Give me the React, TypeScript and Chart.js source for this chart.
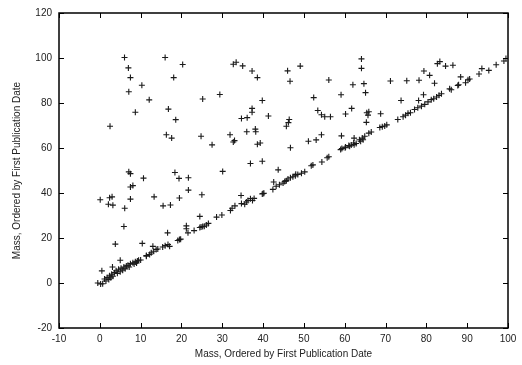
import React, { useEffect, useRef } from "react";
import { Chart, registerables } from "chart.js";

Chart.register(...registerables);

// Points lying close to the diagonal
const diagonalX = [
  -0.5, 0.2, 0.7, 1.15, 1.5, 1.8, 2.2, 2.4, 2.7, 2.9, 3.2, 3.6, 4.0, 4.3, 4.6, 5.0, 5.2, 5.6, 5.9, 6.2, 6.5, 6.9, 7.2, 7.5, 8.1, 8.4, 8.7, 9.0, 9.2, 9.5, 10.0,
  11.4, 12.2, 12.6, 13.2, 13.8, 14.2, 15.4, 16.0, 16.7, 17.1, 19.1, 19.5, 19.8,
  23.1, 24.5, 24.8, 25.2, 25.6, 26.1, 26.6, 28.6, 29.9, 32.0, 32.4, 33.1, 34.7, 35.5, 35.9, 36.3, 36.9, 37.4, 37.8, 39.8, 40.0, 40.2,
  42.4, 43.2, 44.0, 44.9, 45.3, 45.7, 46.1, 46.7, 47.3, 47.9, 48.0, 48.5, 49.4, 50.2, 51.8, 52.2, 54.4, 55.7, 56.1,
  59.0, 59.3, 60.1, 60.2, 61.0, 61.2, 61.6, 62.2, 62.3, 62.8, 63.6, 63.9, 64.3, 64.5, 64.9, 65.9, 66.5, 68.6, 69.2, 69.8, 70.3,
  73.0, 74.3, 74.9, 75.5, 76.1, 77.1, 77.9, 78.8, 79.6, 80.4, 81.2, 81.8, 82.5, 83.1, 83.7, 85.7, 86.1, 87.7, 87.9, 89.6, 90.2, 90.6,
  92.9, 93.6, 95.3, 97.1, 99.0, 99.5,
];
const diagonalY = [
  0, -0.4, -0.3, 1.75, 0.9, 2.5, 1.6, 3.2, 2.3, 3.9, 3.0, 4.6, 5.4, 4.3, 6.1, 5.0, 6.6, 5.7, 7.1, 6.3, 7.6, 7.9, 7.1, 8.6, 9.0, 8.4, 9.4, 8.9, 9.8, 10.1, 10.2,
  11.9, 12.7, 13.4, 14.1, 14.9, 15.1, 16.0, 16.6, 17.1, 16.3, 18.9, 19.3, 19.5,
  23.3, 24.7, 24.9, 25.1, 25.2, 25.8, 26.5, 29.3, 30.2, 32.2, 33.2, 34.3, 35.3, 35.0, 36.0, 36.7, 37.5, 36.7, 37.6, 39.6, 39.8, 39.9,
  41.6, 43.0, 43.7, 44.4, 45.1, 45.5, 46.2, 46.8, 47.2, 47.7, 48.3, 48.2, 48.8, 49.4, 52.1, 52.5, 53.8, 55.7, 56.1,
  59.3, 59.8, 60.1, 60.4, 61.1, 60.8, 61.3, 62.2, 61.5, 62.0, 63.7, 63.0, 64.4, 63.7, 65.2, 66.6, 67.1, 69.1, 69.5, 69.8, 70.3,
  72.7, 73.9, 74.6, 75.4, 75.7, 77.1, 77.9, 78.6, 79.4, 80.5, 81.5, 81.9, 82.7, 83.4, 84.1, 86.3, 85.9, 87.8, 88.1, 89.0, 90.3, 90.7,
  92.9, 95.3, 94.5, 97.0, 98.7, 99.8,
];

// Points lying above the diagonal
const scatterX = [
  6.05, 7.0, 7.5, 7.1, 10.3, 12.1, 8.7, 2.5, 16.0, 18.1, 20.3, 16.8, 18.6, 16.3, 17.6, 25.2, 29.4, 24.8, 27.5,
  32.7, 33.4, 35.0, 37.3, 38.6, 37.3, 37.3, 34.7, 36.1, 31.9, 32.7, 33.0, 36.0, 38.1, 38.2, 38.6, 39.3, 36.9, 30.1,
  7.1, 7.5, 10.7, 18.4, 19.4, 21.7,
  39.8, 41.3, 46.0, 46.6, 49.1, 39.8, 52.4, 53.4, 54.3, 55.1, 56.5, 45.7, 46.2, 46.4, 46.7, 51.1, 53.0, 54.3, 43.7,
  56.1, 59.1, 60.2, 61.7, 59.2, 62.0, 64.1, 64.1, 64.7, 65.1, 65.4, 65.9, 65.7, 65.3, 68.8, 71.2, 73.8, 75.2, 78.2,
  79.4, 80.8, 79.3, 78.1, 82.0, 82.7, 83.3, 84.7, 86.5, 88.4, 62.3, 42.6, 34.6,
  0.1, 2.4, 3.0, 2.1, 3.2, 6.1, 7.5, 7.5, 8.1, 5.9, 3.8, 13.3, 15.5, 17.3, 19.5, 21.7, 25.0,
  5.0, 3.1, 0.5, 10.4, 13.0, 11.4, 16.6, 21.2, 21.2, 21.6, 24.5,
];
const scatterY = [
  100.2, 95.6, 91.3, 85.0, 87.9, 81.4, 75.9, 69.7, 100.2, 91.3, 97.1, 77.3, 72.6, 65.9, 64.4, 81.8, 83.8, 65.2, 61.4,
  97.2, 98.1, 96.5, 94.2, 91.3, 77.6, 75.9, 73.1, 73.5, 65.9, 62.7, 63.3, 67.2, 68.4, 67.2, 61.7, 62.2, 53.1, 49.6,
  49.4, 48.6, 46.6, 49.1, 46.5, 46.8,
  81.1, 74.2, 94.3, 89.7, 96.4, 54.1, 82.4, 76.7, 74.8, 73.9, 73.9, 69.7, 71.3, 72.7, 60.1, 63.0, 63.6, 65.9, 50.3,
  90.2, 83.7, 75.1, 77.6, 65.4, 88.1, 99.6, 95.4, 88.6, 84.6, 75.7, 76.1, 74.6, 71.4, 75.2, 89.8, 81.1, 89.9, 90.1,
  94.2, 92.3, 83.7, 81.1, 88.8, 97.5, 98.4, 96.4, 96.8, 91.6, 64.4, 44.9, 38.9,
  37.0, 37.9, 38.3, 35.0, 34.6, 33.2, 37.3, 42.7, 43.3, 25.1, 17.3, 38.3, 34.3, 34.7, 37.8, 41.3, 39.2,
  10.1, 7.1, 5.4, 17.6, 16.3, 12.2, 22.3, 25.4, 24.1, 22.3, 29.6,
];

const xAxisTitle = "Mass, Ordered by First Publication Date";
const yAxisTitle = "Mass, Ordered by First Publication Date";
const xRange = { min: -10, max: 100, step: 10 };
const yRange = { min: -20, max: 120, step: 20 };

const FONT = "'Liberation Sans', Arial, Helvetica, sans-serif";

const frameTicks = {
  id: "frameTicks",
  afterDraw(chart: any) {
    const { ctx, chartArea } = chart;
    const xs = chart.scales.x;
    const ys = chart.scales.y;
    const len = 5;
    ctx.save();
    ctx.strokeStyle = "#000";
    ctx.lineWidth = 1;
    ctx.beginPath();
    xs.ticks.forEach((t: any) => {
      const px = Math.round(xs.getPixelForValue(t.value)) + 0.5;
      ctx.moveTo(px, chartArea.bottom);
      ctx.lineTo(px, chartArea.bottom - len);
      ctx.moveTo(px, chartArea.top);
      ctx.lineTo(px, chartArea.top + len);
    });
    ys.ticks.forEach((t: any) => {
      const py = Math.round(ys.getPixelForValue(t.value)) + 0.5;
      ctx.moveTo(chartArea.left, py);
      ctx.lineTo(chartArea.left + len, py);
      ctx.moveTo(chartArea.right, py);
      ctx.lineTo(chartArea.right - len, py);
    });
    ctx.stroke();
    ctx.lineWidth = 1.5;
    ctx.strokeRect(chartArea.left, chartArea.top, chartArea.right - chartArea.left, chartArea.bottom - chartArea.top);
    ctx.restore();
  },
};

export default function App() {
  const ref = useRef<HTMLCanvasElement | null>(null);
  useEffect(() => {
    document.body.style.margin = "0";
    const points = [
      ...diagonalX.map((x, i) => ({ x, y: diagonalY[i] })),
      ...scatterX.map((x, i) => ({ x, y: scatterY[i] })),
    ];
    const chart = new Chart(ref.current as HTMLCanvasElement, {
      type: "scatter",
      data: {
        datasets: [
          {
            data: points,
            pointStyle: "cross",
            pointRadius: 3,
            borderColor: "#1a1a1a",
            backgroundColor: "#1a1a1a",
            borderWidth: 1.1,
          },
        ],
      },
      options: {
        animation: false,
        responsive: false,
        maintainAspectRatio: false,
        layout: { padding: { top: 9, right: 14, left: 0, bottom: 0 } },
        plugins: { legend: { display: false }, tooltip: { enabled: false } },
        scales: {
          x: {
            type: "linear",
            min: xRange.min,
            max: xRange.max,
            afterFit: (s: any) => { s.height = 37; },
            ticks: { stepSize: xRange.step, color: "#222", font: { family: FONT, size: 10 }, padding: 5 },
            grid: { display: false, drawTicks: false },
            border: { display: false },
            title: { display: true, text: xAxisTitle, color: "#222", font: { family: FONT, size: 10 }, padding: { top: 4, bottom: 5 } },
          },
          y: {
            type: "linear",
            min: yRange.min,
            max: yRange.max,
            afterFit: (s: any) => { s.width = 59; },
            ticks: { stepSize: yRange.step, color: "#222", font: { family: FONT, size: 10 }, padding: 7 },
            grid: { display: false, drawTicks: false },
            border: { display: false },
            title: { display: true, text: yAxisTitle, color: "#222", font: { family: FONT, size: 10 }, padding: { top: 11, bottom: 4 } },
          },
        },
      },
      plugins: [frameTicks],
    });
    return () => chart.destroy();
  }, []);
  return <canvas ref={ref} width={522} height={365} style={{ display: "block" }} />;
}
